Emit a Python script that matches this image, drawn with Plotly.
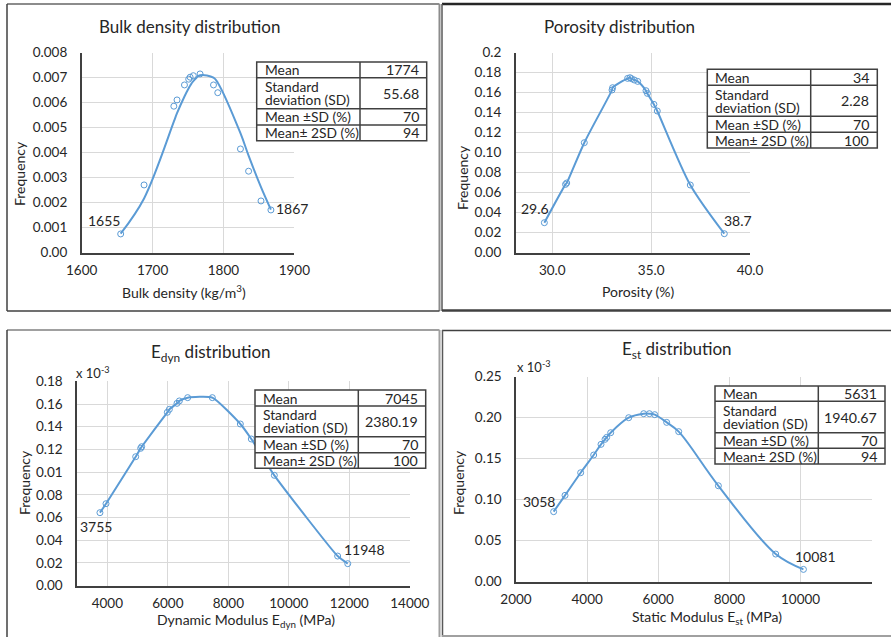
import plotly.graph_objects as go

W, H = 891, 637
BLUE = "#5B9BD5"
TXT = "#262626"
GRID = "#D9D9D9"
AX = "#404040"
FONT = "Lato"

# ---------------- data ----------------
# Bulk density
bd_x = [1655, 1688, 1730, 1734.5, 1745, 1751, 1753, 1757.5, 1767, 1786, 1792, 1824, 1835.5, 1853, 1867]
bd_freq = [0.00075, 0.00271, 0.00586, 0.00611, 0.00671, 0.00694, 0.00702, 0.00708, 0.00715,
           0.00671, 0.00640, 0.00415, 0.00326, 0.00207, 0.00171]
bd_fit = [0.00076, 0.00217, 0.00524, 0.00558, 0.00625, 0.00658, 0.00668, 0.00686, 0.00710,
          0.00700, 0.00680, 0.00478, 0.00388, 0.00262, 0.00172]
# Porosity
por_x = [29.6, 30.67, 30.73, 31.62, 33.02, 33.05, 33.81, 33.93, 34.01, 34.15, 34.32,
         34.74, 34.81, 35.14, 35.31, 36.98, 38.7]
por_freq = [0.030, 0.0683, 0.0697, 0.110, 0.1627, 0.165, 0.1743, 0.175, 0.174, 0.1727, 0.1713,
            0.162, 0.1593, 0.1483, 0.1417, 0.0677, 0.019]
# Dynamic modulus (frequency x 10^-3)
edyn_x = [3755, 3956, 4937, 5102, 5135, 5983, 6050, 6303, 6380, 6656, 7471, 8397, 8760, 9521, 11614, 11948]
edyn_freq = [0.0643, 0.0722, 0.1136, 0.1210, 0.1224, 0.1527, 0.1553, 0.1606, 0.1627, 0.1656,
             0.1656, 0.1424, 0.1292, 0.0972, 0.0261, 0.0194]
# Static modulus (frequency x 10^-3)
est_x = [3058, 3378, 3818, 4184, 4390, 4502, 4549, 4662, 5168, 5590, 5749, 5899, 6236, 6574, 7689, 9301, 10081]
est_freq = [0.0854, 0.1053, 0.1329, 0.1545, 0.1675, 0.1736, 0.176, 0.1817, 0.200, 0.2049, 0.2049,
            0.2037, 0.1943, 0.183, 0.117, 0.0337, 0.015]

# tables
tbl_labels = ["Mean", ["Standard", "deviation (SD)"], "Mean \u00b1SD (%)", "Mean\u00b1 2SD (%)"]
bd_stats = ["1774", "55.68", "70", "94"]
por_stats = ["34", "2.28", "70", "100"]
edyn_stats = ["7045", "2380.19", "70", "100"]
est_stats = ["5631", "1940.67", "70", "94"]

# ticks
bd_xticks = [1600, 1700, 1800, 1900]
bd_xticktext = ["1600", "1700", "1800", "1900"]
bd_yticks = [0, 0.001, 0.002, 0.003, 0.004, 0.005, 0.006, 0.007, 0.008]
bd_yticktext = ["0.00", "0.001", "0.002", "0.003", "0.004", "0.005", "0.006", "0.007", "0.008"]
por_xticks = [30, 35, 40]
por_xticktext = ["30.0", "35.0", "40.0"]
por_yticks = [0, 0.02, 0.04, 0.06, 0.08, 0.10, 0.12, 0.14, 0.16, 0.18, 0.2]
por_yticktext = ["0.00", "0.02", "0.04", "0.06", "0.08", "0.10", "0.12", "0.14", "0.16", "0.18", "0.2"]
edyn_xticks = [4000, 6000, 8000, 10000, 12000, 14000]
edyn_xticktext = ["4000", "6000", "8000", "10000", "12000", "14000"]
edyn_yticks = [0, 0.02, 0.04, 0.06, 0.08, 0.10, 0.12, 0.14, 0.16, 0.18]
edyn_yticktext = ["0.00", "0.02", "0.04", "0.06", "0.08", "0.01", "0.12", "0.14", "0.16", "0.18"]
est_xticks = [2000, 4000, 6000, 8000, 10000, 12000]
est_xticktext = ["2000", "4000", "6000", "8000", "10000", "12000"]
est_yticks = [0, 0.05, 0.10, 0.15, 0.20, 0.25]
est_yticktext = ["0.00", "0.05", "0.10", "0.15", "0.20", "0.25"]


def fx(p):
    return p / W


def fy(p):
    return 1 - p / H


fig = go.Figure()

# ---------------- traces ----------------
line = dict(color=BLUE, width=2)
mk = dict(symbol="circle-open", size=6, color=BLUE, line=dict(width=1, color=BLUE))

fig.add_trace(go.Scatter(x=bd_x, y=bd_fit, mode="lines", line=dict(shape="spline", smoothing=1, **line),
                         xaxis="x", yaxis="y", showlegend=False))
fig.add_trace(go.Scatter(x=bd_x, y=bd_freq, mode="markers", marker=mk, xaxis="x", yaxis="y", showlegend=False))

fig.add_trace(go.Scatter(x=por_x, y=por_freq, mode="lines+markers", marker=mk,
                         line=dict(shape="spline", smoothing=0.8, **line),
                         xaxis="x2", yaxis="y2", showlegend=False))
fig.add_trace(go.Scatter(x=edyn_x, y=edyn_freq, mode="lines+markers", marker=mk,
                         line=dict(shape="spline", smoothing=0.5, **line),
                         xaxis="x3", yaxis="y3", showlegend=False))
fig.add_trace(go.Scatter(x=est_x, y=est_freq, mode="lines+markers", marker=mk,
                         line=dict(shape="spline", smoothing=1, **line),
                         xaxis="x4", yaxis="y4", showlegend=False))

# ---------------- axes ----------------
tickfont = dict(family=FONT, size=13.5, color=TXT)


def xax(l, r, rng, tv, tt, anchor):
    return dict(domain=[fx(l), fx(r)], range=rng, tickvals=tv, ticktext=tt, showgrid=True, gridcolor=GRID,
                gridwidth=1, showline=True, linecolor=AX, linewidth=1.5, zeroline=False, ticks="",
                tickfont=tickfont, ticklabelstandoff=4, fixedrange=True, automargin=False, anchor=anchor)


def yax(t, b, rng, tv, tt, anchor):
    return dict(domain=[fy(b), fy(t)], range=rng, tickvals=tv, ticktext=tt, showgrid=True, gridcolor=GRID,
                gridwidth=1, showline=True, linecolor=AX, linewidth=1.5, zeroline=False, ticks="",
                tickfont=tickfont, ticklabelstandoff=10, fixedrange=True, automargin=False, anchor=anchor)


fig.update_layout(
    template="none",
    width=W, height=H, margin=dict(l=0, r=0, t=0, b=0, pad=0, autoexpand=False),
    paper_bgcolor="white", plot_bgcolor="white",
    font=dict(family=FONT, color=TXT),
    xaxis=xax(81.7, 294.3, [1600, 1900], bd_xticks, bd_xticktext, "y"),
    yaxis=yax(52.7, 252.7, [0, 0.008], bd_yticks, bd_yticktext, "x"),
    xaxis2=xax(515.7, 750, [28.15, 40], por_xticks, por_xticktext, "y2"),
    yaxis2=yax(52.7, 252.7, [0, 0.2], por_yticks, por_yticktext, "x2"),
    xaxis3=xax(77.1, 409.8, [3000, 14000], edyn_xticks, edyn_xticktext, "y3"),
    yaxis3=yax(381.3, 585.7, [0, 0.18], edyn_yticks, edyn_yticktext, "x3"),
    xaxis4=xax(516, 871.7, [2000, 12000], est_xticks, est_xticktext, "y4"),
    yaxis4=yax(376.7, 581.7, [0, 0.25], est_yticks, est_yticktext, "x4"),
)

shapes = []
ann = []


def text(px_, py_, s, size=13, xanchor="center", angle=0):
    ann.append(dict(x=fx(px_), y=fy(py_), xref="paper", yref="paper", text=s, showarrow=False,
                    xanchor=xanchor, yanchor="middle", textangle=angle,
                    font=dict(family=FONT, size=size, color=TXT)))


def hline(x0, x1, y, color, w):
    shapes.append(dict(type="line", xref="paper", yref="paper", x0=fx(x0), x1=fx(x1), y0=fy(y), y1=fy(y),
                       line=dict(color=color, width=w)))


def vline(x, y0, y1, color, w):
    shapes.append(dict(type="line", xref="paper", yref="paper", x0=fx(x), x1=fx(x), y0=fy(y0), y1=fy(y1),
                       line=dict(color=color, width=w)))


# panel frames
hline(7, 439.5, 4, "#8c8c8c", 2)
vline(7, 4, 311, "#404040", 1.5)
vline(439.5, 4, 311, "#8c8c8c", 2)
hline(7, 439.5, 311, "#404040", 1.5)
hline(442, 891, 4, "#262626", 2.5)
vline(442, 4, 311, "#595959", 1.5)
hline(442, 891, 310.5, "#404040", 2.5)
hline(7, 439.5, 330, "#a0a0a0", 2)
vline(7, 330, 637, "#404040", 1.5)
vline(439.5, 330, 637, "#a0a0a0", 2)
hline(442, 891, 330.5, "#404040", 1.5)
vline(442.5, 330, 637, "#595959", 1.5)
hline(442, 891, 636, "#a0a0a0", 2)


# tables
def table(left, div, right, rows, stats):
    shapes.append(dict(type="rect", xref="paper", yref="paper", x0=fx(left), x1=fx(right), y0=fy(rows[-1]),
                       y1=fy(rows[0]), fillcolor="white", line=dict(color=AX, width=1.5), layer="above"))
    for r in rows[1:-1]:
        shapes.append(dict(type="line", xref="paper", yref="paper", x0=fx(left), x1=fx(right), y0=fy(r), y1=fy(r),
                           line=dict(color=AX, width=1.5), layer="above"))
    shapes.append(dict(type="line", xref="paper", yref="paper", x0=fx(div), x1=fx(div), y0=fy(rows[-1]),
                       y1=fy(rows[0]), line=dict(color=AX, width=1.5), layer="above"))
    for i, lab in enumerate(tbl_labels):
        cy = (rows[i] + rows[i + 1]) / 2
        if isinstance(lab, list):
            text(left + 6, cy - 6.4, lab[0], 13.8, "left")
            text(left + 6, cy + 6.4, lab[1], 13.8, "left")
        else:
            text(left + 6, cy, lab, 13.8, "left")
        text(right - 6, cy, stats[i], 14.2, "right")


table(256.7, 360, 426.7, [62, 77.7, 108.7, 125, 140.7], bd_stats)
table(707.3, 810.7, 877.3, [69.3, 85.3, 116.3, 132.3, 148], por_stats)
table(255, 358.3, 425.7, [390, 406, 436.7, 452.7, 468.3], edyn_stats)
table(715, 818.3, 885, [386, 401.3, 432.7, 448.3, 464], est_stats)

# titles
text(189, 26, "Bulk density distribution", 17)
text(619, 26, "Porosity distribution", 17)
text(211, 353, "E<sub>dyn</sub> distribution", 17)
text(677, 350, "E<sub>st</sub> distribution", 17)
# axis titles
text(184, 291, "Bulk density (kg/m<sup>3</sup>)", 14)
text(19, 174, "Frequency", 14, angle=-90)
text(638, 291, "Porosity (%)", 14)
text(462, 178, "Frequency", 14, angle=-90)
text(246, 620, "Dynamic Modulus E<sub>dyn</sub> (MPa)", 14)
text(24, 483, "Frequency", 14, angle=-90)
text(707, 617, "Static Modulus E<sub>st</sub> (MPa)", 14)
text(458, 483, "Frequency", 14, angle=-90)
text(93, 372, "x 10<sup>-3</sup>", 13)
text(534, 366, "x 10<sup>-3</sup>", 13)


# data labels (end points)
def dlabel(xr, yr, xv, yv, dx, dy):
    ann.append(dict(x=xv, y=yv, xref=xr, yref=yr, text=str(xv), showarrow=False, xshift=dx, yshift=dy,
                    font=dict(family=FONT, size=14, color=TXT)))


dlabel("x", "y", bd_x[0], bd_freq[0], -17, 13)
dlabel("x", "y", bd_x[-1], bd_freq[-1], 21, 1)
dlabel("x2", "y2", por_x[0], por_freq[0], -9, 14)
dlabel("x2", "y2", por_x[-1], por_freq[-1], 14, 13)
dlabel("x3", "y3", edyn_x[0], edyn_freq[0], -4, -14)
dlabel("x3", "y3", edyn_x[-1], edyn_freq[-1], 17, 14)
dlabel("x4", "y4", est_x[0], est_freq[0], -15, 10)
dlabel("x4", "y4", est_x[-1], est_freq[-1], 12, 13)

fig.update_layout(shapes=shapes, annotations=ann)
fig.write_html("out.html")
